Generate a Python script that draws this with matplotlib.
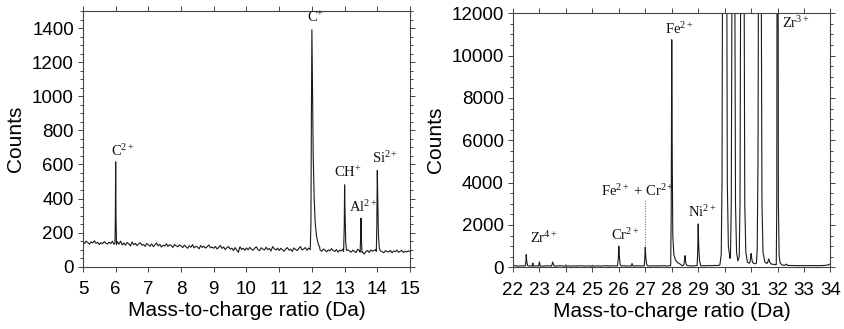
"""Mass spectra of the low and mid m/z ranges, side by side."""

import matplotlib
matplotlib.use("Agg")
import matplotlib.pyplot as plt
import numpy as np


# ── Low-mass range (5-15 Da) ────────────────────────────────────────────

# baseline counts sampled every 0.05 Da from 5.00 to 15.00
low_grid = np.round(np.linspace(5.0, 15.0, 201), 3)
low_baseline = [
    148, 136, 150, 141, 132, 146, 139, 152, 137, 143, 130, 141, 135, 147, 138, 133, 144, 136, 149, 131,
    140, 147, 132, 150, 128, 139, 126, 142, 134, 121, 145, 129, 137, 124, 133, 141, 127, 130, 119, 136,
    128, 120, 134, 118, 127, 139, 122, 131, 115, 126, 121, 135, 119, 129, 124, 113, 130, 122, 117, 128,
    121, 112, 126, 117, 108, 123, 114, 129, 110, 119, 116, 105, 124, 113, 120, 109, 118, 127, 111, 115,
    108, 119, 104, 113, 125, 107, 116, 100, 111, 118, 103, 109, 95, 112, 98, 84, 117, 101, 108, 96,
    110, 99, 113, 104, 96, 108, 117, 101, 94, 111, 103, 98, 114, 100, 107, 92, 118, 105, 97, 109,
    95, 108, 99, 91, 104, 112, 97, 103, 89, 110, 101, 95, 107, 118, 98, 104, 112, 96, 109, 102,
    100, 100, 100, 100, 100, 98, 91, 104, 96, 87, 99, 93, 106, 95, 89, 101, 85, 97, 92, 103,
    96, 88, 99, 92, 85, 97, 90, 83, 102, 94, 92, 86, 74, 89, 95, 84, 98, 91, 96, 99,
    95, 98, 93, 87, 82, 94, 89, 86, 96, 81, 92, 88, 97, 84, 90, 95, 83, 91, 86, 93, 89,
]

# peak profiles as (m/z, counts)
peak_c2 = [(5.98, 140), (5.99, 300), (6.0, 615), (6.01, 300), (6.025, 130)]
peak_c1 = [(11.95, 100), (11.97, 250), (11.985, 900), (12.0, 1390), (12.02, 1000),
           (12.04, 650), (12.07, 400), (12.1, 260), (12.14, 180), (12.19, 135), (12.24, 112)]
peak_ch = [(12.97, 90), (12.99, 250), (13.0, 480), (13.015, 300), (13.035, 140), (13.06, 95)]
peak_al2 = [(13.475, 85), (13.49, 180), (13.5, 285), (13.51, 180), (13.53, 85)]
peak_si2 = [(13.97, 90), (13.985, 250), (14.0, 565), (14.015, 380), (14.035, 180),
            (14.06, 110), (14.09, 95)]
low_peaks = [peak_c2, peak_c1, peak_ch, peak_al2, peak_si2]

# (text, m/z of left edge, counts of baseline)
low_labels = [
    (r"C$^{2+}$", 5.87, 630),
    (r"C$^{+}$", 11.84, 1420),
    (r"CH$^{+}$", 12.68, 510),
    (r"Al$^{2+}$", 13.14, 304),
    (r"Si$^{2+}$", 13.83, 590),
]

# ── Mid-mass range (22-34 Da) ───────────────────────────────────────────

# baseline counts sampled every 0.1 Da from 22.0 to 34.0
mid_grid = np.round(np.linspace(22.0, 34.0, 121), 2)
mid_baseline = [
    60, 75, 55, 70, 65, 80, 58, 72, 62, 68,
    70, 55, 66, 74, 60, 70, 52, 68, 76, 58,
    64, 70, 55, 72, 60, 66, 74, 58, 63, 69,
    80, 62, 70, 57, 68, 75, 60, 66, 72, 64,
    70, 62, 74, 58, 66, 70, 60, 75, 64, 68,
    72, 66, 60, 74, 62, 70, 65, 78, 60, 70,
    75, 68, 62, 74, 66, 70, 80, 72, 64, 76,
    80, 70, 78, 72, 85, 76, 90, 84, 100, 130,
    200, 200, 200, 200, 200, 200, 200, 200, 220, 200,
    200, 180, 170, 200, 200, 200, 180, 200, 150, 130,
    120, 110, 100, 95, 88, 85, 80, 84, 78, 82,
    80, 76, 84, 78, 82, 75, 80, 86, 90, 110,
    160,
]

peak_zr4_90 = [(22.46, 60), (22.49, 300), (22.5, 600), (22.52, 300), (22.55, 80)]
peak_zr4_91 = [(22.73, 60), (22.75, 200), (22.77, 60)]
peak_zr4_92 = [(22.97, 60), (23.0, 260), (23.03, 60)]
peak_zr4_94 = [(23.46, 60), (23.5, 250), (23.55, 70)]
peak_zr4_96 = [(23.97, 50), (24.0, 110), (24.03, 50)]
peak_25 = [(24.97, 50), (25.0, 95), (25.03, 50)]
peak_cr2 = [(25.95, 70), (25.98, 400), (26.0, 1000), (26.02, 550), (26.05, 150), (26.08, 80)]
peak_265 = [(26.47, 60), (26.5, 180), (26.53, 60)]
peak_fecr = [(26.96, 70), (26.98, 400), (27.0, 950), (27.02, 500), (27.05, 150), (27.08, 80)]
peak_fe2 = [(27.96, 80), (27.98, 2500), (28.0, 10750), (28.02, 5000), (28.04, 1500),
            (28.08, 600), (28.14, 350), (28.22, 220), (28.32, 150)]
peak_285 = [(28.46, 130), (28.48, 300), (28.5, 550), (28.52, 300), (28.55, 120)]
peak_ni2 = [(28.96, 90), (28.98, 700), (29.0, 2050), (29.02, 1000), (29.05, 300), (29.09, 120)]
peak_zr3_90 = [(29.82, 120), (29.87, 600), (29.9, 4000), (29.93, 20000), (30.0, 90000),
               (30.07, 20000), (30.1, 4000), (30.14, 1000), (30.2, 420)]
peak_zr3_91 = [(30.22, 500), (30.25, 3000), (30.28, 15000), (30.33, 20000), (30.38, 15000),
               (30.41, 3000), (30.45, 700), (30.5, 300)]
peak_zr3_92 = [(30.55, 500), (30.58, 3000), (30.61, 16000), (30.67, 30000), (30.73, 16000),
               (30.76, 3000), (30.8, 700), (30.86, 250), (30.93, 190)]
peak_31 = [(30.96, 250), (30.99, 550), (31.0, 650), (31.02, 450), (31.05, 250),
           (31.1, 180), (31.16, 170)]
peak_zr3_94 = [(31.2, 200), (31.23, 800), (31.26, 5000), (31.28, 15000), (31.33, 30000),
               (31.38, 15000), (31.41, 3000), (31.45, 700), (31.52, 250), (31.58, 200)]
peak_3167 = [(31.63, 250), (31.67, 400), (31.7, 250), (31.76, 150)]
peak_zr3_96 = [(31.95, 120), (31.97, 3000), (32.0, 40000), (32.03, 3000), (32.06, 500),
               (32.1, 200), (32.15, 130)]
peak_323 = [(32.28, 100), (32.33, 150), (32.38, 90)]
mid_peaks = [peak_zr4_90, peak_zr4_91, peak_zr4_92, peak_zr4_94, peak_zr4_96, peak_25,
             peak_cr2, peak_265, peak_fecr, peak_fe2, peak_285, peak_ni2,
             peak_zr3_90, peak_zr3_91, peak_zr3_92, peak_31, peak_zr3_94, peak_3167,
             peak_zr3_96, peak_323]

mid_labels = [
    (r"Zr$^{4+}$", 22.63, 1010),
    (r"Cr$^{2+}$", 25.69, 1130),
    (r"Fe$^{2+}$ + Cr$^{2+}$", 25.31, 3210),
    (r"Fe$^{2+}$", 27.75, 10870),
    (r"Ni$^{2+}$", 28.6, 2240),
    (r"Zr$^{3+}$", 32.18, 11180),
]

# dotted leader from the Fe2+ + Cr2+ label down to its peak at 27 Da
leader_mz = 27.0
leader_counts = (1050, 3200)


# ── Helpers ─────────────────────────────────────────────────────────────

def build_trace(grid, baseline, peaks):
    """Merge baseline samples with peak profiles, dropping baseline under peaks."""
    x = np.asarray(grid, dtype=float)
    y = np.asarray(baseline, dtype=float)
    keep = np.ones(len(x), dtype=bool)
    px, py = [], []
    for pts in peaks:
        xs = [p[0] for p in pts]
        keep &= ~((x >= min(xs) - 1e-9) & (x <= max(xs) + 1e-9))
        px += xs
        py += [p[1] for p in pts]
    xs = np.concatenate([x[keep], px])
    ys = np.concatenate([y[keep], py])
    order = np.argsort(xs)
    return xs[order], ys[order]


def style_axes(ax):
    for s in ax.spines.values():
        s.set_linewidth(0.8)
        s.set_color("#444444")
    ax.tick_params(which="both", direction="out", top=True, right=True,
                   color="#444444", width=0.7)
    ax.tick_params(which="major", length=3.5, labelsize=13.5)
    ax.tick_params(axis="x", which="major", pad=7)
    ax.tick_params(axis="y", which="major", pad=3)
    ax.tick_params(which="minor", length=2)
    ax.tick_params(axis="x", which="minor", top=False, bottom=False)


def add_labels(ax, labels):
    for text, x, y in labels:
        ax.text(x, y, text, ha="left", va="bottom", fontsize=10.5,
                family="Liberation Serif", color="#111111")


# ── Plot ────────────────────────────────────────────────────────────────

def main():
    plt.rcParams["font.family"] = ["Liberation Sans", "DejaVu Sans"]
    # ion charges set in the same serif face as the element symbols
    plt.rcParams["mathtext.fontset"] = "custom"
    plt.rcParams["mathtext.rm"] = "Liberation Serif"
    plt.rcParams["mathtext.it"] = "Liberation Serif:italic"
    plt.rcParams["mathtext.bf"] = "Liberation Serif:bold"

    fig = plt.figure(figsize=(8.44, 3.29), dpi=100)
    ax1 = fig.add_axes([0.0983, 0.1894, 0.3875, 0.7772])
    ax2 = fig.add_axes([0.6078, 0.1875, 0.3762, 0.7721])

    x, y = build_trace(low_grid, low_baseline, low_peaks)
    ax1.plot(x, y, color="#1a1a1a", lw=0.8)
    ax1.set_xlim(5, 15)
    ax1.set_ylim(0, 1500)
    ax1.set_xticks(np.arange(5, 16, 1))
    ax1.set_yticks(np.arange(0, 1401, 200))
    ax1.set_yticks(np.arange(0, 1501, 50), minor=True)
    add_labels(ax1, low_labels)

    x, y = build_trace(mid_grid, mid_baseline, mid_peaks)
    ax2.plot(x, y, color="#1a1a1a", lw=0.8)
    ax2.plot([leader_mz, leader_mz], leader_counts, color="#555555", lw=0.7, ls=":")
    ax2.set_xlim(22, 34)
    ax2.set_ylim(0, 12000)
    ax2.set_xticks(np.arange(22, 35, 1))
    ax2.set_yticks(np.arange(0, 12001, 2000))
    ax2.set_yticks(np.arange(0, 12001, 500), minor=True)
    add_labels(ax2, mid_labels)

    for ax in (ax1, ax2):
        style_axes(ax)
        ax.set_xlabel("Mass-to-charge ratio (Da)", fontsize=15, labelpad=2)
        ax.set_ylabel("Counts", fontsize=15, labelpad=5)

    fig.savefig("out.png", dpi=100)
    plt.close(fig)


if __name__ == "__main__":
    main()
